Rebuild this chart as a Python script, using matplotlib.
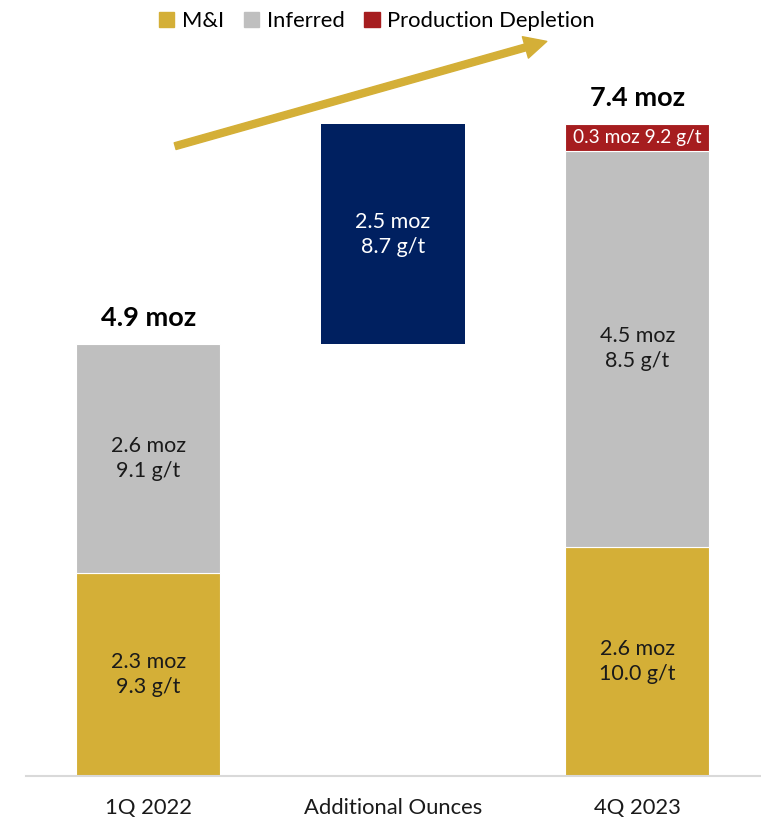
import matplotlib
matplotlib.use("Agg")
import matplotlib.pyplot as plt
from matplotlib.patches import Patch, FancyArrowPatch

plt.rcParams["font.family"] = ["Lato", "DejaVu Sans"]

# resource walk, moz
categories = ["1Q 2022", "Additional Ounces", "4Q 2023"]
mi_moz = [2.3, 0.0, 2.6]
mi_grade = [9.3, None, 10.0]
inferred_moz = [2.6, 0.0, 4.5]
inferred_grade = [9.1, None, 8.5]
added_moz = 2.5
added_grade = 8.7
depletion_moz = 0.3
depletion_grade = 9.2
totals = [4.9, None, 7.4]

GOLD = "#D4AF37"
GREY = "#BFBFBF"
NAVY = "#002060"
RED = "#A61D1F"

fig = plt.figure(figsize=(7.61, 8.18), dpi=100)
ax = fig.add_axes([26 / 761, (818 - 775.7) / 818, 733.5 / 761, 775.7 / 818])

x = range(len(categories))
w = 0.59
ax.bar(x, mi_moz, width=w, color=GOLD, edgecolor="white", linewidth=0.8)
ax.bar(x, inferred_moz, width=w, bottom=mi_moz, color=GREY, edgecolor="white", linewidth=0.8)

# floating bar for the additions, sitting on the opening total
ax.bar(1, added_moz, width=w, bottom=totals[0], color=NAVY, linewidth=0)
# depletion on top of the closing stack
dep_bottom = mi_moz[2] + inferred_moz[2]
ax.bar(2, depletion_moz, width=w, bottom=dep_bottom, color=RED, edgecolor="white", linewidth=0.8)

lab = dict(ha="center", va="center", fontsize=15.5, linespacing=1.3)
for i in (0, 2):
    ax.text(i, mi_moz[i] / 2, f"{mi_moz[i]} moz\n{mi_grade[i]:.1f} g/t", color="#1a1a1a", **lab)
    ax.text(i, mi_moz[i] + inferred_moz[i] / 2,
            f"{inferred_moz[i]} moz\n{inferred_grade[i]:.1f} g/t", color="#1a1a1a", **lab)
ax.text(1, totals[0] + added_moz / 2, f"{added_moz} moz\n{added_grade} g/t", color="white", **lab)
ax.text(2, dep_bottom + depletion_moz / 2, f"{depletion_moz} moz {depletion_grade} g/t",
        color="white", ha="center", va="center", fontsize=13.8)

ax.text(0, totals[0] + 0.3, f"{totals[0]} moz", ha="center", va="center",
        fontsize=19.5, fontweight="bold", color="black")
ax.text(2, totals[2] + 0.3, f"{totals[2]} moz", ha="center", va="center",
        fontsize=19.5, fontweight="bold", color="black")

# growth arrow
arrow = FancyArrowPatch((0.11, 7.15), (1.63, 8.34),
                        arrowstyle="simple,head_length=16,head_width=16,tail_width=5",
                        color=GOLD, shrinkA=0, shrinkB=0, mutation_scale=1)
ax.add_patch(arrow)

ax.set_xlim(-0.5, 2.5)
ax.set_ylim(0, 8.81)
ax.set_xticks(list(x))
ax.set_xticklabels(categories, fontsize=15.8, color="#1a1a1a")
ax.tick_params(axis="x", length=0, pad=16)
ax.set_yticks([])
for s in ("top", "right", "left"):
    ax.spines[s].set_visible(False)
ax.spines["bottom"].set_color("#D9D9D9")
ax.spines["bottom"].set_linewidth(1.5)

handles = [Patch(color=GOLD, label="M&I"), Patch(color=GREY, label="Inferred"),
           Patch(color=RED, label="Production Depletion")]
fig.legend(handles=handles, loc="center", bbox_to_anchor=(377 / 761, 1 - 21 / 818), ncol=3,
           frameon=False, fontsize=15.8, handlelength=0.7, handleheight=0.7,
           handletextpad=0.35, columnspacing=0.9)

fig.savefig("out.png", dpi=100)
